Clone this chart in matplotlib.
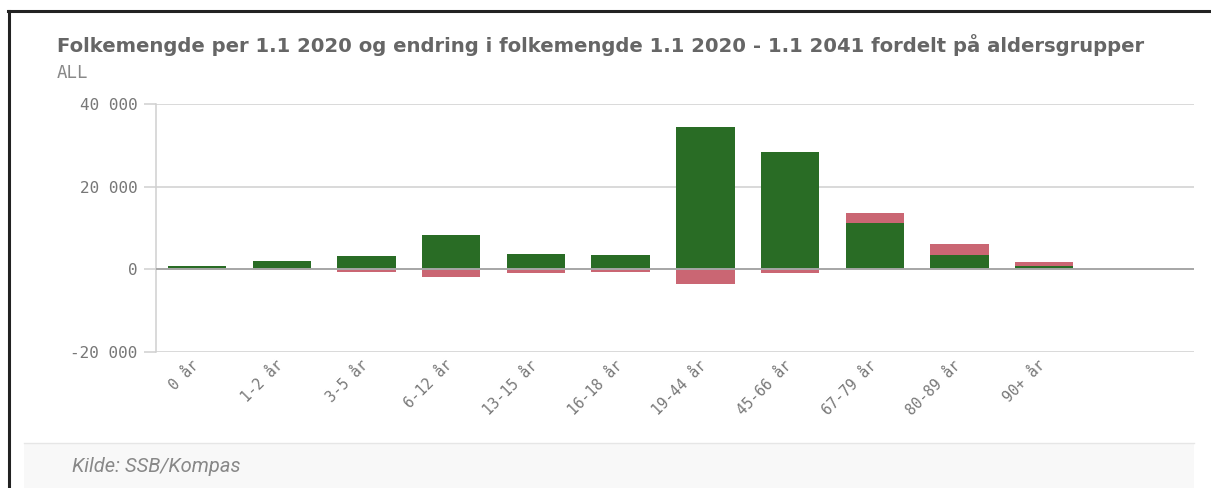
import matplotlib.pyplot as plt
from matplotlib.patches import Rectangle
from matplotlib.lines import Line2D
from matplotlib.transforms import ScaledTranslation
import numpy as np

# aldersgrupper
categories = ["0 år", "1-2 år", "3-5 år", "6-12 år", "13-15 år", "16-18 år",
              "19-44 år", "45-66 år", "67-79 år", "80-89 år", "90+ år"]
# folkemengde per 1.1 2020
pop_2020 = [900, 2100, 3300, 8400, 3700, 3500, 34500, 28500, 11250, 3450, 800]
# endring 1.1 2020 - 1.1 2041
endring = [-100, -200, -600, -1800, -800, -550, -3600, -800, 2400, 2800, 1050]
y_ticks = [-20000, 0, 20000, 40000]
y_labels = ["-20 000", "0", "20 000", "40 000"]

GREEN = "#296c25"
RED = "#ca6673"
W, H = 1211, 488

fig = plt.figure(figsize=(W / 100, H / 100), dpi=100)
fig.patch.set_facecolor("white")

# frame and footer
fig.add_artist(Line2D([8 / W, 1], [1 - 11 / H] * 2, color="#222222", lw=2.2))
fig.add_artist(Line2D([9 / W] * 2, [0, 1 - 11 / H], color="#222222", lw=2.2))
fig.add_artist(Rectangle((24 / W, 0), (1194 - 24) / W, 45 / H,
                         facecolor="#f8f8f8", edgecolor="none"))
fig.add_artist(Line2D([24 / W, 1194 / W], [45 / H] * 2, color="#e6e6e6", lw=1))

title = fig.text(57 / W, 1 - 45 / H,
                 "Folkemengde per 1.1 2020 og endring i folkemengde 1.1 2020 - 1.1 2041 fordelt på aldersgrupper",
                 fontsize=14, fontweight="bold", color="#666666", family="DejaVu Sans",
                 va="center", ha="left")
fig.text(57 / W, 1 - 73 / H, "ALL", fontsize=12.5, color="#888888",
         family="DejaVu Sans Mono", va="center", ha="left")
fig.text(72 / W, 1 - 467 / H, "Kilde: SSB/Kompas", fontsize=14.5, color="#888888",
         style="italic", family="Roboto", va="center", ha="left")

ax = fig.add_axes([155.7 / W, 1 - 352 / H, (1194 - 155.7) / W, (352 - 104) / H])
x = np.arange(len(categories))
pop = np.array(pop_2020)
chg = np.array(endring)
pos = np.where(chg > 0, chg, 0)
neg = np.where(chg < 0, chg, 0)
bw = 0.69
ax.bar(x, pop, width=bw, color=GREEN, zorder=3)
ax.bar(x, pos, width=bw, bottom=pop, color=RED, zorder=3)
ax.bar(x, neg, width=bw, color=RED, zorder=3)

ax.set_xlim(-0.49, 11.77)
ax.set_ylim(-20000, 40000)
ax.set_yticks(y_ticks)
ax.set_yticklabels(y_labels)
for yv in y_ticks:
    if yv == 0:
        ax.axhline(0, color="#a6a6a6", lw=1.4, zorder=4)
    else:
        ax.axhline(yv, color="#d0d0d0", lw=1.1, zorder=1)

for s in ["top", "right", "bottom"]:
    ax.spines[s].set_visible(False)
ax.spines["left"].set_color("#d0d0d0")
ax.spines["left"].set_linewidth(1.1)

ax.tick_params(axis="y", length=9, width=1.1, color="#d0d0d0", pad=4,
               labelsize=11.5, labelcolor="#777777")
ax.set_xticks(x)
ax.set_xticklabels(categories, rotation=45, ha="right", rotation_mode="anchor")
ax.tick_params(axis="x", length=0, pad=4, labelsize=10.5, labelcolor="#777777")
shift = ScaledTranslation(-6 / 100, 0, fig.dpi_scale_trans)
for lab in ax.get_xticklabels():
    lab.set_transform(lab.get_transform() + shift)
for lab in ax.get_xticklabels() + ax.get_yticklabels():
    lab.set_family("DejaVu Sans Mono")

# fit the title to the width it has in the reference
fig.canvas.draw()
bb = title.get_window_extent()
title.set_fontsize(14 * (1150 - 57) / bb.width)

fig.savefig("out.png", dpi=100)
